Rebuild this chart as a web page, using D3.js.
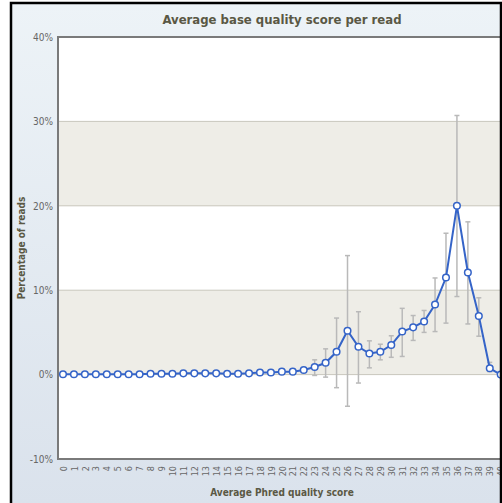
<!DOCTYPE html>
<html>
<head>
<meta charset="utf-8">
<script src="https://cdn.jsdelivr.net/npm/d3@7"></script>
<style>
  body { margin: 0; background: #fff; overflow: hidden; }
  svg text { font-family: "DejaVu Sans Condensed", "DejaVu Sans", sans-serif; }
</style>
</head>
<body>
<svg id="chart" width="502" height="503"></svg>
<script>
// quality scores on x
var scores = d3.range(0, 41);
// average percentage of reads per score
var pctReads = [0.05, 0.05, 0.05, 0.05, 0.05, 0.05, 0.05, 0.05, 0.1, 0.1,
                0.1, 0.15, 0.15, 0.15, 0.15, 0.1, 0.1, 0.15, 0.25, 0.25,
                0.35, 0.35, 0.55, 0.9, 1.4, 2.7, 5.2, 3.3, 2.5, 2.7,
                3.5, 5.1, 5.6, 6.3, 8.3, 11.5, 20.0, 12.1, 6.95, 0.75, 0.0];
// error bar ends (null = none)
var errLow = [null, null, null, null, null, null, null, null, null, null,
              null, null, null, null, null, null, null, null, null, null,
              null, null, null, -0.1, -0.3, -1.55, -3.75, -1.0, 0.8, 1.75,
              2.05, 2.15, 4.05, 5.0, 5.1, 6.1, 9.25, 6.0, 4.55, 0.35, null];
var errHigh = [null, null, null, null, null, null, null, null, null, null,
               null, null, null, null, null, null, null, null, null, null,
               null, null, null, 1.75, 3.05, 6.7, 14.1, 7.45, 4.0, 3.6,
               4.6, 7.85, 7.0, 7.6, 11.45, 16.75, 30.7, 18.1, 9.1, 1.45, null];
var yTicks = [-10, 0, 10, 20, 30, 40];

var svg = d3.select("#chart");
var W = 502, H = 503;

var defs = svg.append("defs");
var grad = defs.append("linearGradient").attr("id", "bg").attr("x1", 0).attr("y1", 0).attr("x2", 0).attr("y2", 1);
grad.append("stop").attr("offset", "0%").attr("stop-color", "#edf3f7");
grad.append("stop").attr("offset", "100%").attr("stop-color", "#dae2ec");

svg.append("rect").attr("x", 11).attr("y", 3).attr("width", W).attr("height", H).attr("fill", "url(#bg)");

var plot = {left: 58, top: 37, right: 512, bottom: 459};

var x = d3.scalePoint().domain(scores).range([63, 500.7]);
var y = d3.scaleLinear().domain([-10, 40]).range([plot.bottom, plot.top]);

// plot background
svg.append("rect").attr("x", plot.left).attr("y", plot.top)
   .attr("width", plot.right - plot.left).attr("height", plot.bottom - plot.top).attr("fill", "#fff");

// alternating bands
[[20, 30], [0, 10]].forEach(function(b) {
  svg.append("rect").attr("x", plot.left).attr("y", y(b[1]))
     .attr("width", plot.right - plot.left).attr("height", y(b[0]) - y(b[1]))
     .attr("fill", "#eeede7");
});

// grid lines
svg.selectAll(".grid").data(yTicks.filter(function(t) { return t > -10 && t < 40; }))
  .enter().append("line")
  .attr("x1", plot.left).attr("x2", plot.right)
  .attr("y1", function(d) { return y(d); }).attr("y2", function(d) { return y(d); })
  .attr("stroke", "#c9c7bd").attr("stroke-width", 1);

// frame of plot
svg.append("path")
  .attr("d", "M" + plot.right + "," + plot.top + "H" + plot.left + "V" + plot.bottom + "H" + plot.right)
  .attr("fill", "none").attr("stroke", "#7a7a7a").attr("stroke-width", 2);

// y axis
var yAxis = svg.append("g").attr("transform", "translate(" + plot.left + ",0)")
  .call(d3.axisLeft(y).tickValues(yTicks).tickSize(0).tickPadding(5).tickFormat(function(d) { return d + "%"; }));
yAxis.select(".domain").remove();
yAxis.selectAll("text").attr("fill", "#666").style("font-size", "10px");

// x axis
var xAxis = svg.append("g").attr("transform", "translate(0," + plot.bottom + ")")
  .call(d3.axisBottom(x).tickSize(0).tickPadding(0));
xAxis.select(".domain").remove();
xAxis.selectAll("text")
  .attr("fill", "#666").style("font-size", "9px")
  .attr("text-anchor", "end").attr("dy", "0.35em")
  .attr("transform", "translate(0,7) rotate(-90)")
  .attr("x", 0).attr("y", 0);

// error bars
var errData = scores.map(function(s, i) { return {s: s, lo: errLow[i], hi: errHigh[i]}; })
  .filter(function(d) { return d.lo !== null; });
var eb = svg.append("g").attr("stroke", "#b9b9b9").attr("stroke-width", 1.5);
eb.selectAll(".ev").data(errData).enter().append("line")
  .attr("x1", function(d) { return x(d.s); }).attr("x2", function(d) { return x(d.s); })
  .attr("y1", function(d) { return y(d.lo); }).attr("y2", function(d) { return y(d.hi); });
eb.selectAll(".eh").data(errData).enter().append("line")
  .attr("x1", function(d) { return x(d.s) - 2.5; }).attr("x2", function(d) { return x(d.s) + 2.5; })
  .attr("y1", function(d) { return y(d.hi); }).attr("y2", function(d) { return y(d.hi); });
eb.selectAll(".el").data(errData).enter().append("line")
  .attr("x1", function(d) { return x(d.s) - 2.5; }).attr("x2", function(d) { return x(d.s) + 2.5; })
  .attr("y1", function(d) { return y(d.lo); }).attr("y2", function(d) { return y(d.lo); });

// line and markers
var pts = scores.map(function(s, i) { return {s: s, v: pctReads[i]}; });
svg.append("path").datum(pts)
  .attr("fill", "none").attr("stroke", "#3564c8").attr("stroke-width", 2)
  .attr("d", d3.line().x(function(d) { return x(d.s); }).y(function(d) { return y(d.v); }));
svg.selectAll(".pt").data(pts).enter().append("circle")
  .attr("cx", function(d) { return x(d.s); }).attr("cy", function(d) { return y(d.v); })
  .attr("r", 3.3).attr("fill", "#fff").attr("stroke", "#3564c8").attr("stroke-width", 1.5);

// titles
svg.append("text").attr("x", 282).attr("y", 24).attr("text-anchor", "middle")
  .attr("fill", "#5a5844").style("font-size", "13px").style("font-weight", "bold")
  .text("Average base quality score per read");
svg.append("text").attr("x", 282).attr("y", 496).attr("text-anchor", "middle")
  .attr("fill", "#5a5844").style("font-size", "10px").style("font-weight", "bold")
  .text("Average Phred quality score");
svg.append("text").attr("transform", "translate(25,248) rotate(-90)").attr("text-anchor", "middle")
  .attr("fill", "#5a5844").style("font-size", "10px").style("font-weight", "bold")
  .text("Percentage of reads");

// outer black frame
svg.append("path").attr("d", "M11,503V3H501V503")
  .attr("fill", "none").attr("stroke", "#000").attr("stroke-width", 2.5);
</script>
</body>
</html>
